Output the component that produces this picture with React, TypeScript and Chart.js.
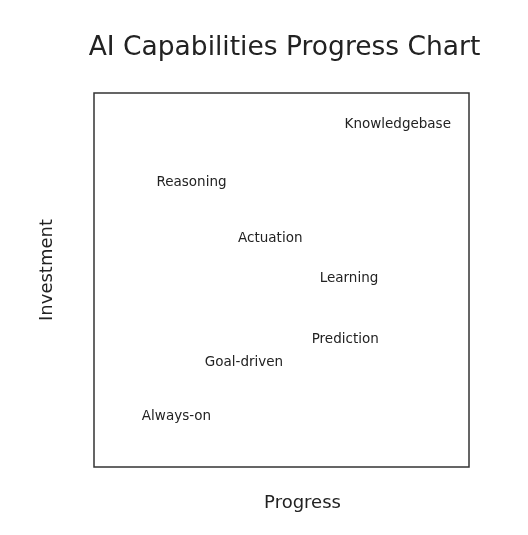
import React, { useEffect, useRef } from "react";
import { Chart, registerables } from "chart.js";

Chart.register(...registerables);

const titleText = "AI Capabilities Progress Chart";
const xAxisTitle = "Progress";
const yAxisTitle = "Investment";
const pointLabels = ["Knowledgebase", "Reasoning", "Actuation", "Learning", "Prediction", "Goal-driven", "Always-on"];
const progressValues = [0.81, 0.26, 0.47, 0.68, 0.67, 0.40, 0.22];
const investmentValues = [0.915, 0.76, 0.61, 0.505, 0.34, 0.28, 0.135];

const FONT = "'DejaVu Sans', sans-serif";
const INK = "#222222";

const decorPlugin = {
  id: "decor",
  afterDatasetsDraw(chart: any) {
    const { ctx, chartArea } = chart;
    const { left, right, top, bottom } = chartArea;
    const xs = chart.scales.x;
    const ys = chart.scales.y;
    ctx.save();
    // border
    ctx.strokeStyle = "#333333";
    ctx.lineWidth = 1.5;
    ctx.strokeRect(left, top, right - left, bottom - top);
    // point labels
    ctx.fillStyle = INK;
    ctx.font = `13.5px ${FONT}`;
    ctx.textAlign = "center";
    ctx.textBaseline = "middle";
    pointLabels.forEach((lbl, i) => {
      const px = xs.getPixelForValue(progressValues[i]);
      const py = ys.getPixelForValue(investmentValues[i]);
      ctx.fillText(lbl, px, py);
    });
    // title
    const cx = (left + right) / 2;
    ctx.font = `26.5px ${FONT}`;
    ctx.fillText(titleText, cx + 3, top - 45);
    // x axis title
    ctx.font = `18px ${FONT}`;
    ctx.fillText(xAxisTitle, cx + 21, bottom + 36);
    // y axis title
    ctx.translate(left - 47, (top + bottom) / 2 - 10);
    ctx.rotate(-Math.PI / 2);
    ctx.fillText(yAxisTitle, 0, 0);
    ctx.restore();
  },
};

export default function App() {
  const ref = useRef<HTMLCanvasElement | null>(null);
  useEffect(() => {
    if (!ref.current) return;
    const chart = new Chart(ref.current, {
      type: "scatter",
      data: {
        datasets: [
          {
            data: progressValues.map((x, i) => ({ x, y: investmentValues[i] })),
            pointRadius: 0,
            pointHoverRadius: 0,
          },
        ],
      },
      options: {
        animation: false,
        responsive: false,
        events: [],
        layout: { padding: { left: 94, right: 59, top: 93, bottom: 68 } },
        plugins: { legend: { display: false }, tooltip: { enabled: false }, title: { display: false } },
        scales: {
          x: { type: "linear", min: 0, max: 1, display: false },
          y: { type: "linear", min: 0, max: 1, display: false },
        },
      },
      plugins: [decorPlugin],
    });
    return () => chart.destroy();
  }, []);
  return (
    <div style={{ position: "absolute", left: 0, top: 0, width: 528, height: 535, background: "#fff" }}>
      <canvas ref={ref} width={528} height={535} style={{ width: 528, height: 535, display: "block" }} />
    </div>
  );
}
